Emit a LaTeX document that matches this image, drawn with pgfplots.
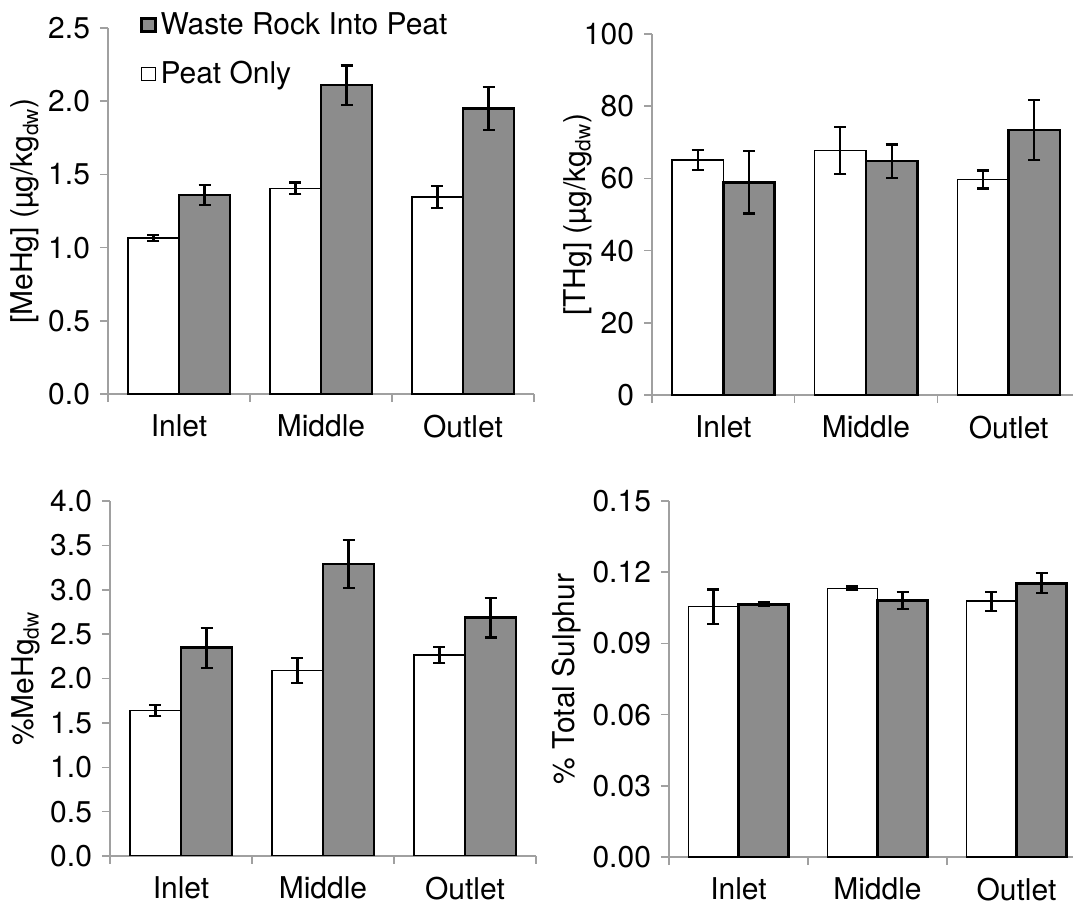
\documentclass[border=0pt]{standalone}
\usepackage{fontspec}
\setmainfont{TeX Gyre Heros}
\usepackage{pgfplots}
\pgfplotsset{compat=1.18}
\definecolor{barGray}{RGB}{140,140,140}
\definecolor{axisGray}{RGB}{160,160,160}
\pgfplotsset{
  panel/.style={
    scale only axis,
    anchor=north west,
    axis lines*=left,
    axis line style={axisGray, line width=0.75pt},
    tick align=outside,
    major tick length=4pt,
    tick style={axisGray, line width=0.75pt},
    ybar,
    xmin=-0.5, xmax=2.5, ymin=0,
    xtick={-0.5,0.5,1.5,2.5},
    x tick label as interval,
    xticklabels={Inlet,Middle,Outlet},
    font=\fontsize{15pt}{17pt}\selectfont,
    ticklabel style={font=\fontsize{15pt}{17pt}\selectfont},
    yticklabel style={xshift=-1.5pt},
    xticklabel style={yshift=-3pt},
    /pgf/number format/assume math mode=true,
    ylabel style={anchor=south, inner sep=0pt, font=\fontsize{15pt}{17pt}\selectfont},
  },
  wbar/.style={fill=white, draw=black, line width=0.7pt, bar width=0.36, bar shift=-0.18,
    error bars/y dir=both, error bars/y explicit,
    error bars/error bar style={black, line width=1.1pt},
    error bars/error mark options={rotate=90, black, mark size=3pt, line width=1.1pt}},
  gbar/.style={fill=barGray, draw=black, line width=1.3pt, bar width=0.36, bar shift=0.18,
    error bars/y dir=both, error bars/y explicit,
    error bars/error bar style={black, line width=1.1pt},
    error bars/error mark options={rotate=90, black, mark size=3pt, line width=1.1pt}},
}
\begin{document}
\begin{tikzpicture}
\useasboundingbox (0,0) rectangle (536.5pt,-452.5pt);
% Top left: MeHg
\begin{axis}[panel, at={(54pt,-14pt)}, width=213pt, height=183pt,
  ymax=2.5, ytick={0,0.5,...,2.5},
  yticklabel style={/pgf/number format/.cd, fixed, fixed zerofill, precision=1},
  ylabel={[MeHg] (µg/kg\textsubscript{dw})},
  ylabel style={at={(axis description cs:-0.16,0.5)}},
  reverse legend,
  legend style={at={(axis description cs:0.074,1.055)}, anchor=north west, draw=none, fill=none,
    inner sep=0pt, row sep=8pt, font=\fontsize{15pt}{17pt}\selectfont},
  legend cell align=left,
  legend image code/.code={\draw[#1] (0pt,-3.25pt) rectangle (7pt,3.25pt);},
]
\addplot[wbar] coordinates {(0,1.065) +- (0,0.02) (1,1.405) +- (0,0.04) (2,1.346) +- (0,0.075)};
\addlegendentry{Peat Only}
\addplot[gbar] coordinates {(0,1.36) +- (0,0.068) (1,2.11) +- (0,0.134) (2,1.951) +- (0,0.146)};
\addlegendentry{Waste Rock Into Peat}
\end{axis}
% Top right: THg
\begin{axis}[panel, at={(326pt,-17pt)}, width=214pt, height=180.5pt,
  ymax=100, ytick={0,20,...,100},
  ylabel={[THg] (µg/kg\textsubscript{dw})},
  ylabel style={at={(axis description cs:-0.14,0.5)}},
]
\addplot[wbar] coordinates {(0,65.1) +- (0,2.7) (1,67.8) +- (0,6.5) (2,59.7) +- (0,2.5)};
\addplot[gbar] coordinates {(0,58.9) +- (0,8.6) (1,64.8) +- (0,4.6) (2,73.4) +- (0,8.4)};
\end{axis}
% Bottom left: %MeHg
\begin{axis}[panel, at={(55pt,-250.5pt)}, width=213pt, height=177.5pt,
  ymax=4, ytick={0,0.5,...,4},
  yticklabel style={/pgf/number format/.cd, fixed, fixed zerofill, precision=1},
  ylabel={\%MeHg\textsubscript{dw}},
  ylabel style={at={(axis description cs:-0.164,0.5)}},
]
\addplot[wbar] coordinates {(0,1.641) +- (0,0.064) (1,2.092) +- (0,0.143) (2,2.265) +- (0,0.087)};
\addplot[gbar] coordinates {(0,2.347) +- (0,0.225) (1,3.290) +- (0,0.268) (2,2.685) +- (0,0.223)};
\end{axis}
% Bottom right: % Total Sulphur
\begin{axis}[panel, at={(334.5pt,-250.5pt)}, width=208.5pt, height=178pt,
  ymax=0.15, ytick={0,0.03,0.06,0.09,0.12,0.15},
  yticklabel style={/pgf/number format/.cd, fixed, fixed zerofill, precision=2},
  ylabel={\% Total Sulphur},
  ylabel style={at={(axis description cs:-0.21,0.5)}},
]
\addplot[wbar] coordinates {(0,0.1055) +- (0,0.0072) (1,0.1132) +- (0,0.0008) (2,0.1078) +- (0,0.004)};
\addplot[gbar] coordinates {(0,0.1065) +- (0,0.0008) (1,0.1080) +- (0,0.0036) (2,0.1153) +- (0,0.0042)};
\end{axis}
\end{tikzpicture}
\end{document}
